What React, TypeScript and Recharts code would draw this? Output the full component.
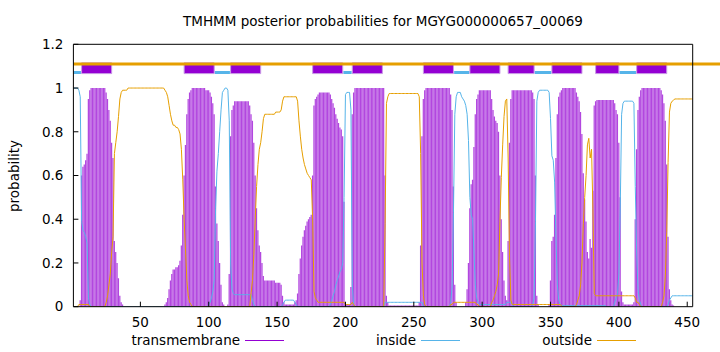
import React from 'react';
import { ComposedChart, Bar, Line, XAxis, YAxis, ReferenceLine, ReferenceArea } from 'recharts';

// posterior probability of transmembrane helix per residue (1..454)
const tmProb = [
  0, 0, 0, 0, 0, 0.03, 0.6, 0.64, 0.65, 0.67,
  0.7, 0.95, 0.99, 1, 1, 1, 1, 1, 1, 1,
  1, 1, 1, 1, 0.98, 0.95, 0.9, 0.85, 0.75, 0.68,
  0.3, 0.25, 0.2, 0.13, 0.05, 0.02, 0.01, 0, 0, 0,
  0, 0, 0, 0, 0, 0, 0, 0, 0, 0,
  0, 0, 0, 0, 0, 0, 0, 0, 0, 0,
  0, 0, 0, 0, 0, 0, 0, 0.01, 0.02, 0.04,
  0.08, 0.12, 0.15, 0.17, 0.17, 0.18, 0.18, 0.19, 0.21, 0.28,
  0.42, 0.6, 0.74, 0.88, 0.95, 0.98, 0.99, 1, 1, 1,
  1, 1, 1, 1, 1, 1, 1, 0.99, 0.99, 0.99,
  0.98, 0.96, 0.93, 0.88, 0.55, 0.38, 0.3, 0.2, 0.1, 0.02,
  0.01, 0, 0, 0.01, 0.15, 0.78, 0.9, 0.92, 0.94, 0.94,
  0.94, 0.94, 0.94, 0.94, 0.94, 0.94, 0.94, 0.94, 0.94, 0.92,
  0.88, 0.85, 0.75, 0.6, 0.45, 0.35, 0.28, 0.25, 0.2, 0.14,
  0.12, 0.12, 0.12, 0.12, 0.12, 0.12, 0.12, 0.12, 0.11, 0.11,
  0.11, 0.11, 0.1, 0.05, 0.02, 0.01, 0.01, 0.01, 0.01, 0.01,
  0.01, 0.01, 0.02, 0.03, 0.06, 0.15, 0.22, 0.28, 0.32, 0.35,
  0.37, 0.39, 0.4, 0.41, 0.42, 0.6, 0.92, 0.95, 0.96, 0.97,
  0.98, 0.98, 0.98, 0.98, 0.98, 0.98, 0.98, 0.98, 0.97, 0.95,
  0.93, 0.91, 0.88, 0.86, 0.84, 0.82, 0.81, 0.78, 0.48, 0.02,
  0.01, 0.01, 0.01, 0.09, 0.88, 0.98, 1, 1, 1, 1,
  1, 1, 1, 1, 1, 1, 1, 1, 1, 1,
  1, 1, 1, 1, 1, 1, 1, 1, 0.6, 0.05,
  0.02, 0.005, 0.005, 0.005, 0.005, 0.005, 0.005, 0.005, 0.005, 0.005,
  0.005, 0.005, 0.005, 0.005, 0.005, 0.005, 0.005, 0.005, 0.005, 0.005,
  0.005, 0.005, 0.005, 0.02, 0.28, 0.78, 0.95, 0.99, 1, 1,
  1, 1, 1, 1, 1, 1, 1, 1, 1, 1,
  1, 1, 1, 1, 1, 1, 0.97, 0.9, 0.55, 0.1,
  0.02, 0, 0, 0, 0, 0, 0, 0.02, 0.08, 0.2,
  0.45, 0.56, 0.58, 0.73, 0.88, 0.95, 0.97, 0.99, 0.99, 0.99,
  0.99, 0.99, 0.99, 0.99, 0.99, 0.99, 0.95, 0.9, 0.87, 0.85,
  0.84, 0.8, 0.6, 0.4, 0.25, 0.12, 0.05, 0.03, 0.3, 0.75,
  0.95, 0.99, 0.99, 0.99, 0.99, 0.99, 0.99, 0.99, 0.99, 0.99,
  0.99, 0.99, 0.99, 0.99, 0.99, 0.99, 0.98, 0.95, 0.6, 0.05,
  0.01, 0, 0, 0, 0, 0, 0, 0, 0.01, 0.12,
  0.3, 0.32, 0.42, 0.68, 0.88, 0.96, 0.98, 0.99, 1, 1,
  1, 1, 1, 1, 1, 1, 1, 1, 0.98, 0.96,
  0.94, 0.89, 0.79, 0.61, 0.49, 0.39, 0.25, 0.22, 0.31, 0.27,
  0.53, 0.92, 0.94, 0.945, 0.945, 0.945, 0.945, 0.945, 0.945, 0.945,
  0.945, 0.945, 0.945, 0.945, 0.945, 0.945, 0.93, 0.9, 0.88, 0.75,
  0.5, 0.07, 0.02, 0.01, 0.01, 0.01, 0.01, 0.01, 0.01, 0.01,
  0.02, 0.4, 0.72, 0.9, 0.96, 0.99, 1, 1, 1, 1,
  1, 1, 1, 1, 1, 1, 1, 1, 1, 1,
  0.99, 0.97, 0.93, 0.85, 0.65, 0.32, 0.08, 0.03, 0.01, 0.005,
  0, 0, 0, 0, 0, 0, 0, 0, 0, 0,
  0, 0, 0, 0,
];

// posterior probability of "inside" per residue
const insideProb = [
  1, 1, 1, 1, 0.99, 0.96, 0.39, 0.35, 0.34, 0.32,
  0.29, 0.04, 0.01, 0, 0, 0, 0, 0, 0, 0,
  0, 0, 0, 0, 0, 0, 0, 0, 0, 0,
  0, 0, 0, 0, 0, 0, 0, 0, 0, 0,
  0, 0, 0, 0, 0, 0, 0, 0, 0, 0,
  0, 0, 0, 0, 0, 0, 0, 0, 0, 0,
  0, 0, 0, 0, 0, 0, 0, 0, 0, 0,
  0, 0, 0, 0, 0, 0, 0, 0, 0, 0,
  0, 0, 0, 0, 0, 0, 0, 0, 0, 0,
  0, 0, 0, 0, 0, 0, 0, 0, 0, 0.01,
  0.02, 0.04, 0.07, 0.12, 0.45, 0.62, 0.7, 0.8, 0.9, 0.98,
  0.99, 1, 1, 0.99, 0.85, 0.2, 0.08, 0.06, 0.055, 0.055,
  0.055, 0.055, 0.055, 0.055, 0.055, 0.055, 0.055, 0.055, 0.055, 0.055,
  0.055, 0.03, 0.01, 0, 0, 0, 0, 0, 0, 0,
  0, 0, 0, 0, 0, 0, 0, 0, 0, 0,
  0, 0, 0, 0.01, 0.02, 0.03, 0.03, 0.03, 0.03, 0.03,
  0.03, 0.03, 0.02, 0.01, 0, 0, 0, 0, 0, 0,
  0, 0, 0, 0, 0, 0, 0, 0, 0, 0,
  0, 0, 0, 0, 0, 0, 0, 0, 0.01, 0.03,
  0.05, 0.07, 0.1, 0.12, 0.14, 0.16, 0.17, 0.2, 0.5, 0.97,
  0.98, 0.98, 0.98, 0.9, 0.1, 0.01, 0, 0, 0, 0,
  0, 0, 0, 0, 0, 0, 0, 0, 0, 0,
  0, 0, 0, 0, 0, 0, 0, 0, 0.02, 0.02,
  0.02, 0.02, 0.02, 0.02, 0.02, 0.02, 0.02, 0.02, 0.02, 0.02,
  0.02, 0.02, 0.02, 0.02, 0.02, 0.02, 0.02, 0.02, 0.02, 0.02,
  0.02, 0.02, 0.02, 0.02, 0.02, 0.02, 0, 0, 0, 0,
  0, 0, 0, 0, 0, 0, 0, 0, 0, 0,
  0, 0, 0, 0, 0, 0, 0.02, 0.09, 0.43, 0.88,
  0.96, 0.98, 0.98, 0.98, 0.96, 0.95, 0.94, 0.92, 0.88, 0.76,
  0.5, 0.42, 0.4, 0.25, 0.1, 0.04, 0.02, 0.01, 0.01, 0.01,
  0.01, 0.01, 0.01, 0.01, 0.01, 0.01, 0.01, 0.01, 0.01, 0.01,
  0.01, 0.01, 0.01, 0.01, 0.01, 0.01, 0.01, 0.02, 0.02, 0.02,
  0.02, 0.01, 0, 0, 0, 0, 0, 0, 0, 0,
  0, 0, 0, 0, 0, 0, 0.01, 0.04, 0.39, 0.94,
  0.98, 0.99, 0.99, 0.99, 0.99, 0.99, 0.99, 0.99, 0.98, 0.86,
  0.69, 0.67, 0.57, 0.31, 0.1, 0.03, 0.01, 0.005, 0.005, 0.005,
  0.005, 0.005, 0.005, 0.005, 0.005, 0.005, 0.005, 0.005, 0.005, 0.005,
  0.005, 0.005, 0.005, 0.005, 0.005, 0.005, 0.005, 0.005, 0.005, 0.005,
  0.005, 0.005, 0.005, 0.005, 0.005, 0.005, 0.005, 0.005, 0.005, 0.005,
  0, 0, 0, 0, 0, 0, 0.02, 0.04, 0.06, 0.15,
  0.45, 0.88, 0.93, 0.94, 0.94, 0.94, 0.94, 0.94, 0.94, 0.94,
  0.93, 0.55, 0.25, 0.08, 0.03, 0.01, 0, 0, 0, 0,
  0, 0, 0, 0, 0, 0, 0, 0, 0, 0,
  0, 0, 0, 0, 0, 0.01, 0.03, 0.04, 0.05, 0.05,
  0.05, 0.05, 0.05, 0.05, 0.05, 0.05, 0.05, 0.05, 0.05, 0.05,
  0.05, 0.05, 0.05, 0.05,
];

// posterior probability of "outside" per residue
const outsideProb = [
  0, 0, 0, 0, 0.01, 0.01, 0.01, 0.01, 0.01, 0.01,
  0.01, 0.01, 0, 0, 0, 0, 0, 0, 0, 0,
  0, 0, 0, 0, 0.02, 0.05, 0.1, 0.15, 0.25, 0.32,
  0.7, 0.75, 0.8, 0.87, 0.95, 0.98, 0.99, 0.99, 0.99, 0.99,
  1, 1, 1, 1, 1, 1, 1, 1, 1, 1,
  1, 1, 1, 1, 1, 1, 1, 1, 1, 1,
  1, 1, 1, 1, 1, 1, 1, 0.99, 0.98, 0.96,
  0.92, 0.88, 0.85, 0.83, 0.83, 0.82, 0.82, 0.81, 0.79, 0.72,
  0.58, 0.4, 0.26, 0.12, 0.05, 0.02, 0.01, 0, 0, 0,
  0, 0, 0, 0, 0, 0, 0, 0, 0, 0,
  0, 0, 0, 0, 0, 0, 0, 0, 0, 0,
  0, 0, 0, 0, 0, 0, 0, 0, 0, 0,
  0, 0, 0, 0, 0, 0, 0, 0, 0, 0,
  0.065, 0.12, 0.24, 0.4, 0.55, 0.65, 0.72, 0.75, 0.8, 0.86,
  0.88, 0.88, 0.88, 0.88, 0.88, 0.88, 0.88, 0.88, 0.89, 0.89,
  0.89, 0.89, 0.9, 0.94, 0.96, 0.96, 0.96, 0.96, 0.96, 0.96,
  0.96, 0.96, 0.96, 0.96, 0.94, 0.85, 0.78, 0.72, 0.68, 0.65,
  0.63, 0.61, 0.6, 0.59, 0.58, 0.4, 0.07, 0.04, 0.03, 0.02,
  0.02, 0.02, 0.02, 0.02, 0.02, 0.02, 0.02, 0.02, 0.02, 0.02,
  0.02, 0.02, 0.02, 0.02, 0.02, 0.02, 0.02, 0.02, 0.02, 0.01,
  0.01, 0.01, 0.01, 0.01, 0.02, 0.01, 0, 0, 0, 0,
  0, 0, 0, 0, 0, 0, 0, 0, 0, 0,
  0, 0, 0, 0, 0, 0, 0, 0, 0.38, 0.93,
  0.96, 0.975, 0.975, 0.975, 0.975, 0.975, 0.975, 0.975, 0.975, 0.975,
  0.975, 0.975, 0.975, 0.975, 0.975, 0.975, 0.975, 0.975, 0.975, 0.975,
  0.975, 0.975, 0.975, 0.96, 0.7, 0.2, 0.05, 0.01, 0, 0,
  0, 0, 0, 0, 0, 0, 0, 0, 0, 0,
  0, 0, 0, 0, 0, 0, 0.01, 0.01, 0.02, 0.02,
  0.02, 0.02, 0.02, 0.02, 0.02, 0.02, 0.02, 0.02, 0.02, 0.02,
  0.02, 0.02, 0.02, 0.02, 0.02, 0.01, 0.01, 0, 0, 0,
  0, 0, 0, 0, 0, 0, 0.02, 0.03, 0.05, 0.07,
  0.1, 0.15, 0.39, 0.59, 0.74, 0.87, 0.94, 0.95, 0.68, 0.23,
  0.03, 0.01, 0.01, 0.01, 0.01, 0.01, 0.01, 0.01, 0.01, 0.01,
  0.01, 0.01, 0.01, 0.01, 0.01, 0.01, 0.01, 0.01, 0.01, 0.01,
  0.01, 0.01, 0.01, 0.01, 0.01, 0.01, 0.01, 0.01, 0.01, 0.01,
  0.01, 0.01, 0.01, 0.01, 0.01, 0.01, 0.01, 0.005, 0, 0,
  0, 0, 0, 0, 0, 0, 0, 0, 0.01, 0.03,
  0.05, 0.1, 0.2, 0.38, 0.5, 0.6, 0.74, 0.77, 0.68, 0.72,
  0.45, 0.06, 0.05, 0.05, 0.05, 0.05, 0.05, 0.05, 0.05, 0.05,
  0.05, 0.05, 0.05, 0.05, 0.05, 0.05, 0.05, 0.05, 0.05, 0.05,
  0.05, 0.05, 0.05, 0.05, 0.05, 0.05, 0.05, 0.05, 0.05, 0.05,
  0.05, 0.04, 0.02, 0.02, 0.01, 0, 0, 0, 0, 0,
  0, 0, 0, 0, 0, 0, 0, 0, 0, 0,
  0, 0.02, 0.05, 0.14, 0.34, 0.66, 0.89, 0.93, 0.94, 0.945,
  0.95, 0.95, 0.95, 0.95, 0.95, 0.95, 0.95, 0.95, 0.95, 0.95,
  0.95, 0.95, 0.95, 0.95,
];

// predicted topology (residue ranges)
const tmSegments: [number, number][] = [
  [7, 29], [82, 104], [116, 138], [176, 198], [205, 227], [257, 279],
  [291, 313], [319, 338], [351, 373], [383, 400], [413, 435],
];
const insideSegments: [number, number][] = [
  [1, 6.5], [104.5, 115.5], [198.5, 204.5], [279.5, 290.5], [338.5, 350.5], [400.5, 412.5],
];
const outsideSegment: [number, number] = [1, 474];

const xTicks = [50, 100, 150, 200, 250, 300, 350, 400, 450];
const yTicks = [0, 0.2, 0.4, 0.6, 0.8, 1, 1.2];

const title = 'TMHMM posterior probabilities for MGYG000000657_00069';
const legendItems = [
  { label: 'transmembrane', color: '#9400d3' },
  { label: 'inside', color: '#56b4e9' },
  { label: 'outside', color: '#e69f00' },
];

const data = tmProb.map((v, i) => ({
  r: i + 1,
  tm: v,
  inside: insideProb[i],
  outside: outsideProb[i],
}));

const FONT = 'DejaVu Sans, Liberation Sans, sans-serif';
const FS = 13.5;

export default function App() {
  const legendEnds = [240, 416, 592];
  return (
    <div style={{ position: 'absolute', left: 0, top: 0, width: 720, height: 352, background: '#fff' }}>
      <ComposedChart
        width={720}
        height={352}
        data={data}
        margin={{ top: 43.3, right: 26.3, bottom: 25.3, left: 13.4 }}
      >
        <XAxis
          xAxisId="b"
          dataKey="r"
          type="number"
          domain={[1, 454]}
          ticks={xTicks}
          height={20}
          tickSize={-5}
          tickMargin={16}
          axisLine={{ stroke: '#000' }}
          tickLine={{ stroke: '#000' }}
          tick={{ fontSize: FS, fill: '#000', fontFamily: FONT }}
          allowDataOverflow
        />
        <XAxis
          xAxisId="t"
          orientation="top"
          type="number"
          domain={[1, 454]}
          ticks={xTicks}
          height={1}
          tickSize={-5}
          axisLine={{ stroke: '#000' }}
          tickLine={{ stroke: '#000' }}
          tick={false}
          allowDataOverflow
        />
        <YAxis
          yAxisId="l"
          type="number"
          domain={[0, 1.2]}
          ticks={yTicks}
          width={60}
          tickSize={-5}
          tickMargin={15}
          axisLine={{ stroke: '#000' }}
          tickLine={{ stroke: '#000' }}
          tick={{ fontSize: FS, fill: '#000', fontFamily: FONT }}
          allowDataOverflow
        />
        <YAxis
          yAxisId="r"
          orientation="right"
          type="number"
          domain={[0, 1.2]}
          ticks={yTicks}
          width={1}
          tickSize={-5}
          axisLine={{ stroke: '#000' }}
          tickLine={{ stroke: '#000' }}
          tick={false}
          allowDataOverflow
        />
        <Bar
          xAxisId="b"
          yAxisId="l"
          dataKey="tm"
          fill="#9400d3"
          fillOpacity={0.72}
          barSize={2}
          isAnimationActive={false}
        />
        <Line
          xAxisId="b"
          yAxisId="l"
          dataKey="inside"
          stroke="#56b4e9"
          strokeWidth={1}
          dot={false}
          type="linear"
          isAnimationActive={false}
        />
        <Line
          xAxisId="b"
          yAxisId="l"
          dataKey="outside"
          stroke="#e69f00"
          strokeWidth={1}
          dot={false}
          type="linear"
          isAnimationActive={false}
        />
        <ReferenceLine
          xAxisId="b"
          yAxisId="l"
          segment={[{ x: outsideSegment[0], y: 1.11 }, { x: outsideSegment[1], y: 1.11 }]}
          stroke="#e69f00"
          strokeWidth={3}
          ifOverflow="visible"
        />
        {insideSegments.map(([a, b], i) => (
          <ReferenceLine
            key={'in' + i}
            xAxisId="b"
            yAxisId="l"
            segment={[{ x: a, y: 1.071 }, { x: b, y: 1.071 }]}
            stroke="#56b4e9"
            strokeWidth={3}
            ifOverflow="visible"
          />
        ))}
        {tmSegments.map(([a, b], i) => (
          <ReferenceArea
            key={'tm' + i}
            xAxisId="b"
            yAxisId="l"
            x1={a}
            x2={b}
            y1={1.066}
            y2={1.115}
            fill="#9400d3"
            fillOpacity={1}
            stroke="#c99ae6"
            strokeWidth={1}
            ifOverflow="visible"
          />
        ))}
      </ComposedChart>
      <svg
        width={720}
        height={352}
        style={{ position: 'absolute', left: 0, top: 0, pointerEvents: 'none' }}
      >
        <text x={383} y={26} textAnchor="middle" fontSize={FS} fontFamily={FONT} fill="#000">
          {title}
        </text>
        <text
          x={0}
          y={0}
          transform="translate(19,176) rotate(-90)"
          textAnchor="middle"
          fontSize={FS}
          fontFamily={FONT}
          fill="#000"
        >
          probability
        </text>
        {legendItems.map((it, i) => (
          <g key={it.label}>
            <text x={legendEnds[i]} y={344.5} textAnchor="end" fontSize={FS} fontFamily={FONT} fill="#000">
              {it.label}
            </text>
            <line x1={legendEnds[i] + 5} x2={legendEnds[i] + 44} y1={340.5} y2={340.5} stroke={it.color} strokeWidth={1} />
          </g>
        ))}
      </svg>
    </div>
  );
}
